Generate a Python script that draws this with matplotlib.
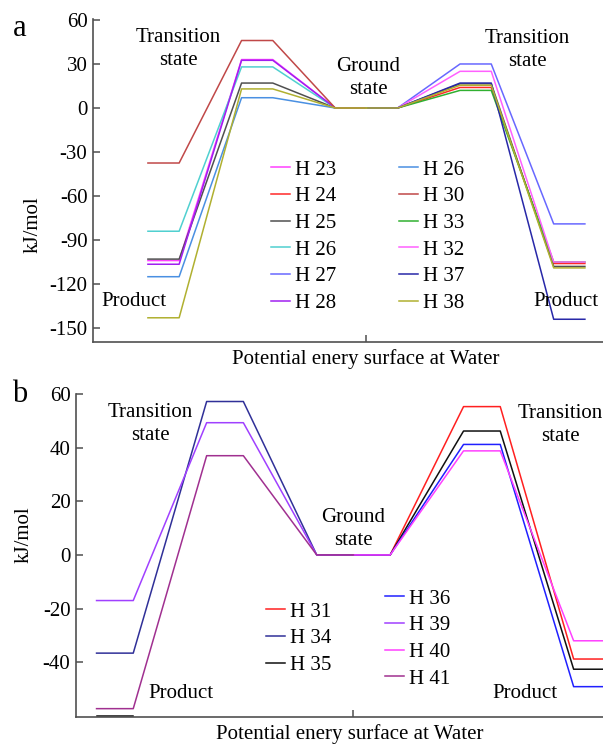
import numpy as np
import matplotlib
matplotlib.use("Agg")
import matplotlib.pyplot as plt

plt.rcParams['font.family'] = ['Liberation Serif', 'DejaVu Serif']
plt.rcParams['axes.unicode_minus'] = False

nan = np.nan
# stage positions along reaction coordinate
stage_x_left = [0, 1, 3, 4, 6, 7]
stage_x_right = [7, 8, 10, 11, 13, 14]

# ---------- panel a data ----------
a_labels = ["H 23", "H 24", "H 25", "H 26", "H 27", "H 28",
            "H 26", "H 30", "H 33", "H 32", "H 37", "H 38"]
a_colors = ["#ff40ff", "#ff2828", "#505050", "#50d0d0", "#6868ff", "#a020f0",
            "#4a90e2", "#c04848", "#30b030", "#ff60ff", "#2828a8", "#b0b030"]
# left side: (product, transition state)
a_left_product = [-104, nan, -103, -84, nan, -106.5, -115, -37.5, nan, nan, nan, -143]
a_left_ts      = [33,   nan, 17,   28,  nan, 32.5,   7,    46,    nan, nan, nan, 13]
# right side: (transition state, product)
a_right_ts      = [nan, 14,   16.5, nan, 30,  nan, nan, nan, 12,   25,   17,   15.5]
a_right_product = [nan, -106, -108, nan, -79, nan, nan, nan, -105, -105, -144, -109]

# ---------- panel b data ----------
b_labels = ["H 31", "H 34", "H 35", "H 36", "H 39", "H 40", "H 41"]
b_colors = ["#ff2020", "#303098", "#101010", "#2020ff", "#a040ff", "#ff40ff", "#a03090"]
b_left_product = [nan, -36.6, -60.0, nan, -17, nan, -57.3]
b_left_ts      = [nan, 57.2,  nan,   nan, 49.3, nan, 37]
b_right_ts      = [55.3, nan, 46.2, 41.2, nan, 38.8, nan]
b_right_product = [-38.8, nan, -42.6, -49.1, nan, -32, nan]

W, H = 603, 744
fig = plt.figure(figsize=(W / 100, H / 100), dpi=100)


def px_axes(x0, y0, x1, y1):
    return fig.add_axes([x0 / W, 1 - y1 / H, (x1 - x0) / W, (y1 - y0) / H])


def draw_series(ax, lp, lt, rt, rp, color):
    if not np.isnan(lp):
        if np.isnan(lt):
            ax.plot(stage_x_left[:2], [lp, lp], color=color, lw=1.1)
        else:
            ax.plot(stage_x_left, [lp, lp, lt, lt, 0, 0], color=color, lw=1.1)
    if not np.isnan(rp):
        ax.plot(stage_x_right, [0, 0, rt, rt, rp, rp], color=color, lw=1.1)


def style(ax):
    for s in ["top", "right"]:
        ax.spines[s].set_visible(False)
    for s in ["left", "bottom"]:
        ax.spines[s].set_color("#505050")
        ax.spines[s].set_linewidth(1.2)
    ax.tick_params(direction="in", length=5, width=1.1, color="#505050",
                   labelsize=15, pad=4)
    ax.set_xticks([7])
    ax.set_xticklabels([""])


fs = 15
ls = 1.3
leg_kw = dict(loc="upper left", frameon=False, bbox_transform=fig.transFigure,
              fontsize=fs, handlelength=0.9, handletextpad=0.25, labelspacing=0.34,
              borderpad=0, borderaxespad=0)

# ---------------- panel a ----------------
axa = px_axes(93, 18.5, 603, 341.7)
handles_a = []
for i in range(len(a_labels)):
    draw_series(axa, a_left_product[i], a_left_ts[i], a_right_ts[i], a_right_product[i], a_colors[i])
    handles_a.append(plt.Line2D([], [], color=a_colors[i], lw=1.1))
axa.set_xlim(-1.76, 14.58)
axa.set_ylim(-159.3, 61)
axa.set_yticks([60, 30, 0, -30, -60, -90, -120, -150])
style(axa)

leg1 = axa.legend(handles_a[:6], a_labels[:6], bbox_to_anchor=(271 / W, 1 - 160 / H), **leg_kw)
axa.add_artist(leg1)
axa.legend(handles_a[6:], a_labels[6:], bbox_to_anchor=(399 / W, 1 - 160 / H), **leg_kw)

fig.text(178 / W, 1 - 49 / H, "Transition\nstate", ha="center", va="center", fontsize=fs, linespacing=ls)
fig.text(368 / W, 1 - 78 / H, "Ground\nstate", ha="center", va="center", fontsize=fs, linespacing=ls)
fig.text(527 / W, 1 - 50 / H, "Transition\nstate", ha="center", va="center", fontsize=fs, linespacing=ls)
fig.text(134 / W, 1 - 301 / H, "Product", ha="center", va="center", fontsize=fs)
fig.text(566 / W, 1 - 302 / H, "Product", ha="center", va="center", fontsize=fs)
fig.text(366 / W, 1 - 359 / H, "Potential enery surface at Water", ha="center", va="center", fontsize=fs)
fig.text(33 / W, 1 - 225 / H, "kJ/mol", ha="center", va="center", rotation=90, fontsize=fs)
fig.text(20 / W, 1 - 28 / H, "a", ha="center", va="center", fontsize=22)

# ---------------- panel b ----------------
axb = px_axes(76, 394, 603, 716.7)
handles_b = []
for i in range(len(b_labels)):
    draw_series(axb, b_left_product[i], b_left_ts[i], b_right_ts[i], b_right_product[i], b_colors[i])
    handles_b.append(plt.Line2D([], [], color=b_colors[i], lw=1.1))
axb.set_xlim(-0.56, 13.8)
axb.set_ylim(-60.3, 60)
axb.set_yticks([60, 40, 20, 0, -20, -40])
style(axb)

leg2 = axb.legend(handles_b[:3], b_labels[:3], bbox_to_anchor=(266 / W, 1 - 602 / H), **leg_kw)
axb.add_artist(leg2)
axb.legend(handles_b[3:], b_labels[3:], bbox_to_anchor=(385 / W, 1 - 589 / H), **leg_kw)

fig.text(150 / W, 1 - 424 / H, "Transition\nstate", ha="center", va="center", fontsize=fs, linespacing=ls)
fig.text(353 / W, 1 - 529 / H, "Ground\nstate", ha="center", va="center", fontsize=fs, linespacing=ls)
fig.text(560 / W, 1 - 425 / H, "Transition\nstate", ha="center", va="center", fontsize=fs, linespacing=ls)
fig.text(181 / W, 1 - 694 / H, "Product", ha="center", va="center", fontsize=fs)
fig.text(525 / W, 1 - 694 / H, "Product", ha="center", va="center", fontsize=fs)
fig.text(350 / W, 1 - 734 / H, "Potential enery surface at Water", ha="center", va="center", fontsize=fs)
fig.text(24 / W, 1 - 535 / H, "kJ/mol", ha="center", va="center", rotation=90, fontsize=fs)
fig.text(20 / W, 1 - 395 / H, "b", ha="center", va="center", fontsize=22)

fig.savefig("out.png", dpi=100)
